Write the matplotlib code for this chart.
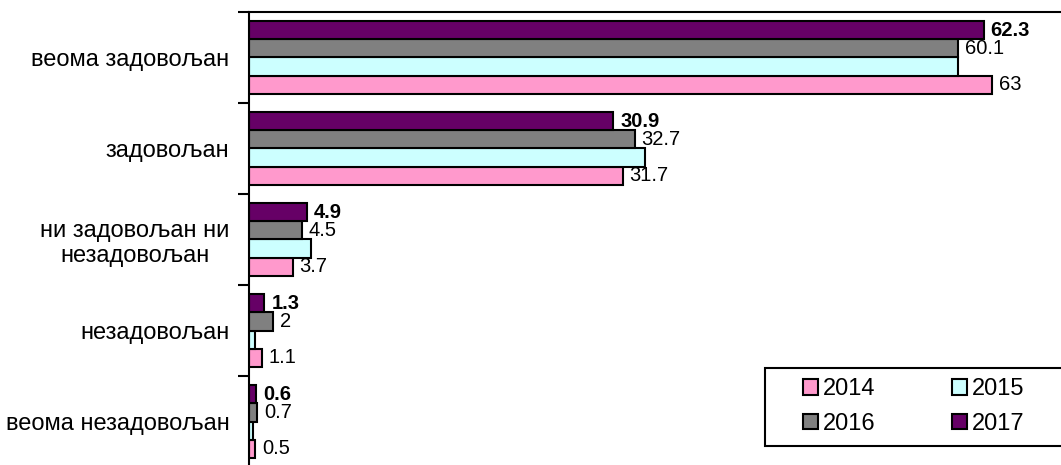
import matplotlib
matplotlib.use("Agg")
import matplotlib.pyplot as plt
from matplotlib.patches import Rectangle
import numpy as np

categories = ["веома задовољан", "задовољан", "ни задовољан ни\nнезадовољан", "незадовољан", "веома незадовољан"]
years = ["2014", "2015", "2016", "2017"]
v2014 = [63, 31.7, 3.7, 1.1, 0.5]
v2015 = [60.1, 33.6, 5.3, 0.5, 0.3]
v2016 = [60.1, 32.7, 4.5, 2, 0.7]
v2017 = [62.3, 30.9, 4.9, 1.3, 0.6]
labels2014 = ["63", "31.7", "3.7", "1.1", "0.5"]
labels2016 = ["60.1", "32.7", "4.5", "2", "0.7"]
labels2017 = ["62.3", "30.9", "4.9", "1.3", "0.6"]
colors = {"2014": "#FF99CC", "2015": "#CCFFFF", "2016": "#808080", "2017": "#660066"}

plt.rcParams['font.family'] = ['Liberation Sans', 'DejaVu Sans']

W, H = 1061, 465
fig = plt.figure(figsize=(W / 100, H / 100), dpi=100)
left_px, top_px, bot_px = 249, 12, 467
ax = fig.add_axes([left_px / W, (H - bot_px) / H, 1 - left_px / W, (bot_px - top_px) / H])

y = np.arange(len(categories))
bh = 0.2
offs = {"2017": -0.3, "2016": -0.1, "2015": 0.1, "2014": 0.3}
series = {"2014": v2014, "2015": v2015, "2016": v2016, "2017": v2017}
bars = {}
for yr in ["2014", "2015", "2016", "2017"]:
    bars[yr] = ax.barh(y + offs[yr], series[yr], height=bh, color=colors[yr],
                       edgecolor="black", linewidth=1.5, label=yr)

for yr, labs, bold in [("2014", labels2014, False), ("2016", labels2016, False), ("2017", labels2017, True)]:
    for i, (v, t) in enumerate(zip(series[yr], labs)):
        ax.annotate(t, (v, y[i] + offs[yr]), xytext=(5, 0), textcoords="offset points",
                    ha="left", va="center", fontsize=14.5 if bold else 14.5,
                    fontweight="bold" if bold else "normal")

ax.set_xlim(0, (W - left_px) / 11.79)
ax.set_ylim(len(categories) - 0.5, -0.5)
ax.set_yticks(y)
ax.set_yticklabels(categories, fontsize=17, multialignment="center")
ax.tick_params(axis="y", which="major", length=0, pad=14)
ax.set_yticks(np.arange(-0.5, len(categories), 1.0), minor=True)
ax.tick_params(axis="y", which="minor", length=8, width=1.5, direction="out")
ax.set_xticks([])
for s in ["right", "bottom"]:
    ax.spines[s].set_visible(False)
ax.spines["left"].set_linewidth(1.5)
ax.spines["top"].set_linewidth(1.5)

# legend frame (extends past the right edge, as in the reference)
fig.add_artist(Rectangle((765 / W, 1 - 446 / H), 310 / W, 78 / H, transform=fig.transFigure,
                         facecolor="white", edgecolor="black", linewidth=1.5))
handles = [bars["2014"], bars["2016"], bars["2015"], bars["2017"]]
labs = ["2014", "2016", "2015", "2017"]
leg = fig.legend(handles, labs, ncol=2, loc="upper left",
                 bbox_to_anchor=(803 / W, 1 - 378 / H),
                 fontsize=17, frameon=False, handlelength=0.64, handleheight=0.64,
                 handletextpad=0.2, columnspacing=3.25, borderpad=0, labelspacing=0.55,
                 borderaxespad=0)

fig.savefig("out.png", dpi=100)
